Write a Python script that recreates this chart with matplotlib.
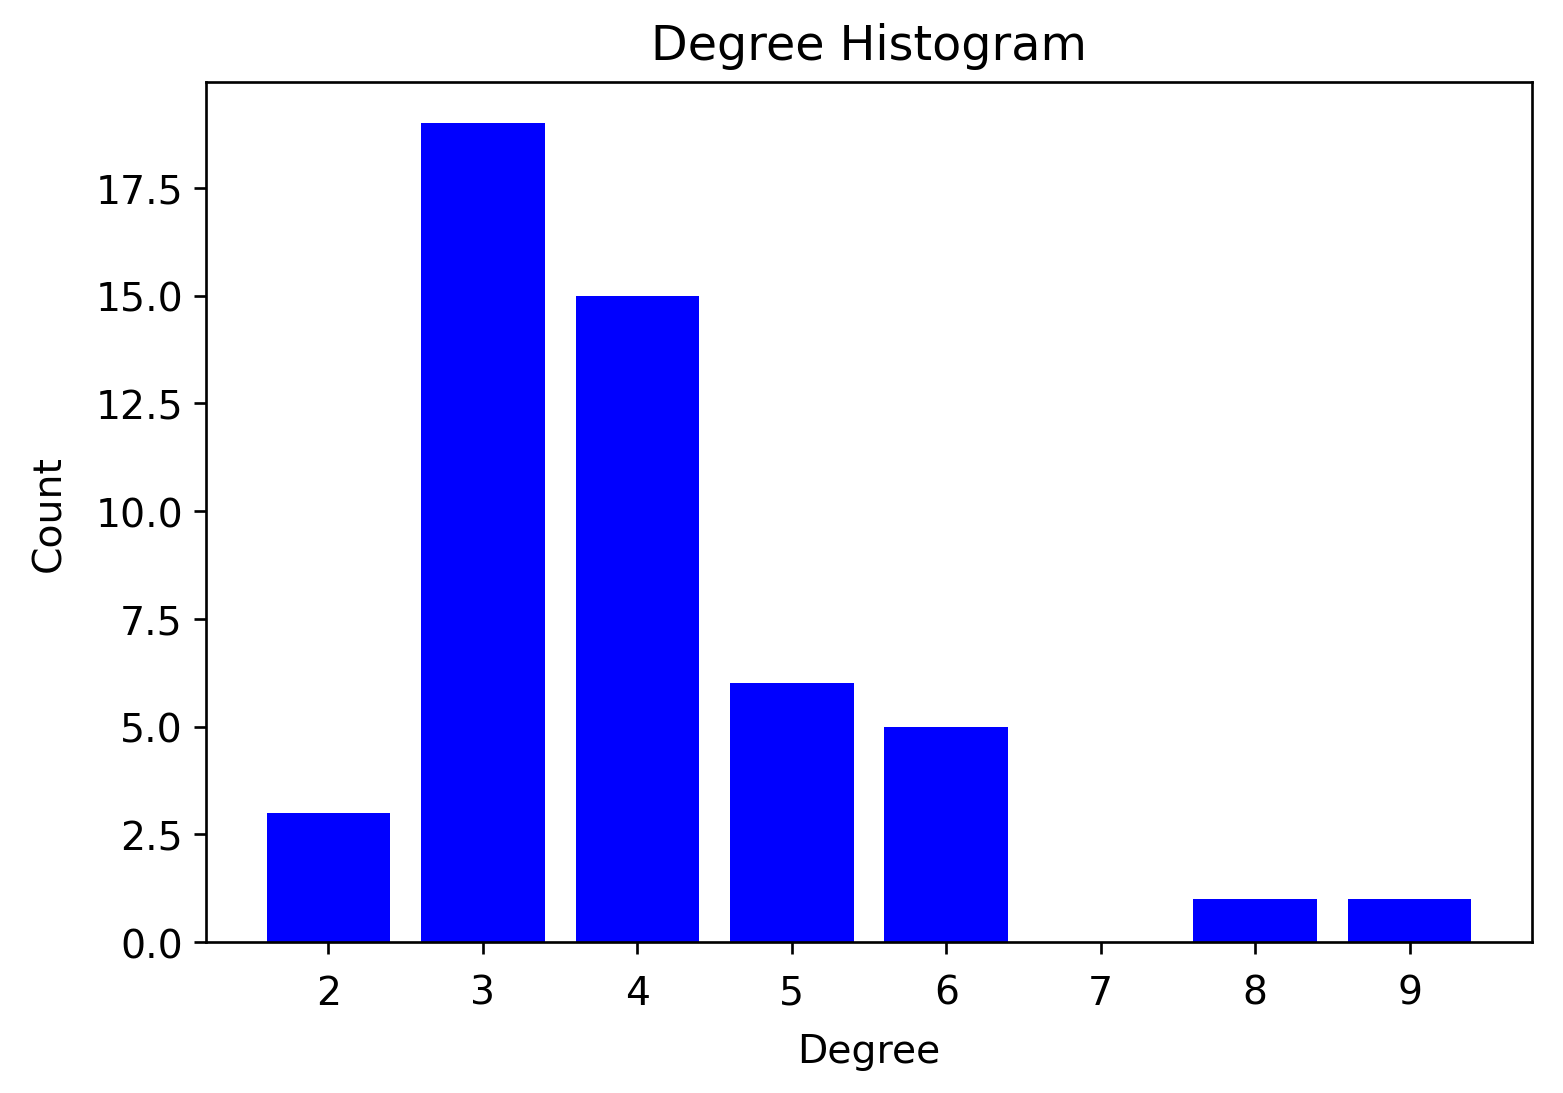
import matplotlib
matplotlib.use('Agg')
import matplotlib.pyplot as plt

# Degree histogram data
degrees = [2, 3, 4, 5, 6, 7, 8, 9]
counts = [3, 19, 15, 6, 5, 0, 1, 1]

fig = plt.figure(figsize=(6.5125, 4.5583), dpi=240)
ax = fig.add_axes([0.132, 0.138, 0.848, 0.786])
ax.bar(degrees, counts, width=0.80, color='b')
ax.set_title('Degree Histogram', fontsize=14.3, pad=7)
ax.set_ylabel('Count', fontsize=11.8, labelpad=8)
ax.set_xlabel('Degree', fontsize=11.8, labelpad=6)
ax.set_xticks(degrees)
ax.set_xticklabels([str(d) for d in degrees])
ax.tick_params(labelsize=11.8)
ax.tick_params(axis='x', pad=6)

fig.savefig('out.png', dpi=240)
